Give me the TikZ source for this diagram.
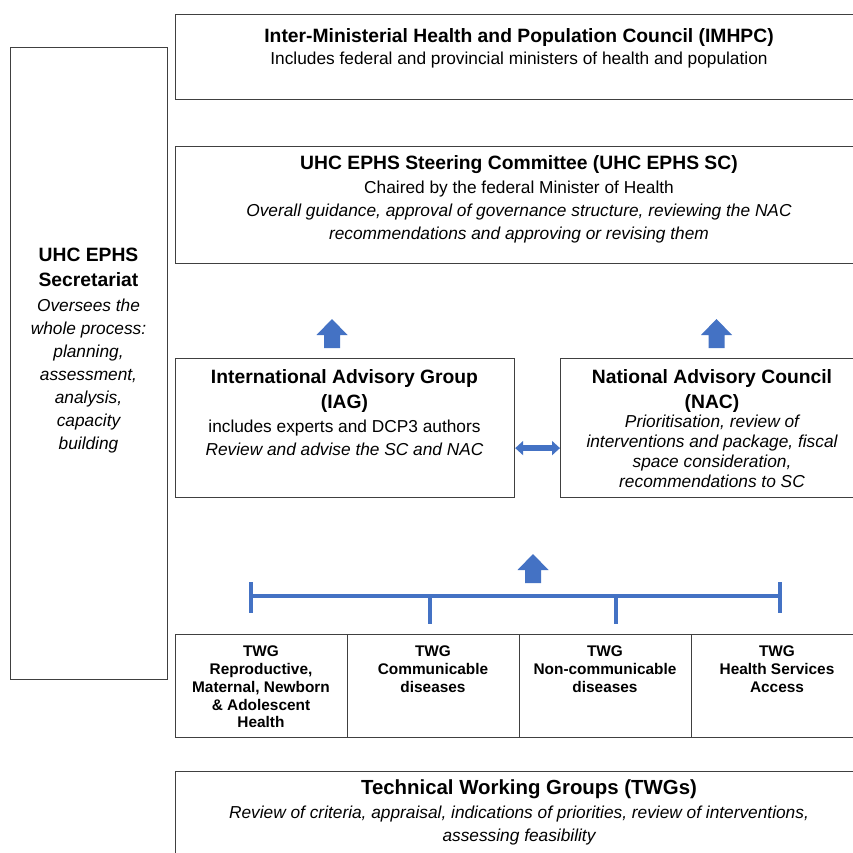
\documentclass[tikz,border=0pt]{standalone}
\usepackage{fontspec}
\setmainfont{Liberation Sans}
\usetikzlibrary{arrows.meta}

\definecolor{arrowblue}{HTML}{4472C4}
\definecolor{boxgrey}{HTML}{404040}

\newcommand{\titlefont}{\fontsize{19.3}{25}\selectfont\bfseries}
\newcommand{\bodyfont}{\fontsize{17.3}{23}\selectfont}
\newcommand{\cellfont}{\fontsize{15.4}{17.7}\selectfont\bfseries}

\tikzset{
  box/.style = {draw = boxgrey, line width = 1.2pt, inner sep = 0pt, anchor = north west},
  boxtext/.style = {anchor = north, align = center, inner sep = 0pt, font = \bodyfont},
  celltext/.style = {anchor = north, align = center, inner sep = 0pt, font = \cellfont},
  bracket/.style = {draw = arrowblue, line width = 3.5pt},
  dblarrow/.style = {arrowblue, line width = 6pt, {Triangle[width = 14pt, length = 8pt]}-{Triangle[width = 14pt, length = 8pt]}},
  uparrow/.pic = {\fill[arrowblue] (0,0) -- (15.5,16) -- (8,16) -- (8,29) -- (-8,29) -- (-8,16) -- (-15.5,16) -- cycle;}
}

\begin{document}
\begin{tikzpicture}[x = 1pt, y = -1pt]
    \useasboundingbox (0,0) rectangle (853,853);
    \fill[white] (0,0) rectangle (853,853);
    \clip (0,0) rectangle (853,853);

    % boxes
    \node[box, minimum width = 689pt, minimum height = 85pt](imhpc) at (175,14) {};
    \node[box, minimum width = 689pt, minimum height = 117pt](steering) at (175,146) {};
    \node[box, minimum width = 157pt, minimum height = 632pt](secretariat) at (10,47) {};
    \node[box, minimum width = 339pt, minimum height = 139pt](iag) at (175,358) {};
    \node[box, minimum width = 304pt, minimum height = 139pt](nac) at (560,358) {};
    \node[box, minimum width = 689pt, minimum height = 100pt](twgs) at (175,771) {};

    \node[box, minimum width = 172pt, minimum height = 103pt](twgRMNCAH) at (175,634) {};
    \node[box, minimum width = 172pt, minimum height = 103pt](twgCD) at (347,634) {};
    \node[box, minimum width = 172pt, minimum height = 103pt](twgNCD) at (519,634) {};
    \node[box, minimum width = 172pt, minimum height = 103pt](twgHSA) at (691,634) {};

    % texts
    \node[boxtext](imhpcText) at (519,28) {{\titlefont Inter-Ministerial Health and Population Council (IMHPC)}\\[-1pt]
        Includes federal and provincial ministers of health and population};
    \node[boxtext](steeringText) at (519,155) {{\titlefont UHC EPHS Steering Committee (UHC EPHS SC)}\\[1pt]
        Chaired by the federal Minister of Health\\
        \itshape Overall guidance, approval of governance structure, reviewing the NAC\\
        \itshape recommendations and approving or revising them};
    \node[boxtext](secretariatText) at (88.5,248) {{\titlefont UHC EPHS}\\[2pt]
        {\titlefont Secretariat}\\[2pt]
        \itshape Oversees the\\ \itshape whole process:\\ \itshape planning,\\ \itshape assessment,\\
        \itshape analysis,\\ \itshape capacity\\ \itshape building};
    \node[boxtext](iagText) at (344.5,369) {{\titlefont International Advisory Group}\\[2pt]
        {\titlefont (IAG)}\\[1pt]
        includes experts and DCP3 authors\\
        \itshape Review and advise the SC and NAC};
    \node[boxtext, font = \fontsize{17.3}{20}\selectfont](nacText) at (712,369) {{\titlefont National Advisory Council}\\[5pt]
        {\titlefont (NAC)}\\[-1pt]
        \itshape Prioritisation, review of\\
        \itshape interventions and package, fiscal\\
        \itshape space consideration,\\
        \itshape recommendations to SC};
    \node[boxtext](twgsText) at (519,780) {\hspace*{20pt}{\fontsize{20.4}{25}\selectfont\bfseries Technical Working Groups (TWGs)}\\[1pt]
        \itshape Review of criteria, appraisal, indications of priorities, review of interventions,\\
        \itshape assessing feasibility};

    \node[celltext](twgRMNCAHText) at (261,646) {TWG\\Reproductive,\\Maternal, Newborn\\\& Adolescent\\Health};
    \node[celltext](twgCDText) at (433,646) {TWG\\Communicable\\diseases};
    \node[celltext](twgNCDText) at (605,646) {TWG\\Non-communicable\\diseases};
    \node[celltext](twgHSAText) at (777,646) {TWG\\Health Services\\Access};

    % arrows
    \pic (upIAG) at (332,319) {uparrow};
    \pic (upNAC) at (716.5,319) {uparrow};
    \pic (upTWG) at (533,554) {uparrow};
    \draw[dblarrow] ([yshift = -20pt]iag.east) -- ([yshift = -20pt]nac.west);

    % bracket over the TWGs
    \draw[bracket] (251,596) -- (780,596);
    \draw[bracket] (251,582) -- (251,613);
    \draw[bracket] (780,582) -- (780,613);
    \draw[bracket] (430,596) -- (430,624);
    \draw[bracket] (616,596) -- (616,624);
\end{tikzpicture}
\end{document}
